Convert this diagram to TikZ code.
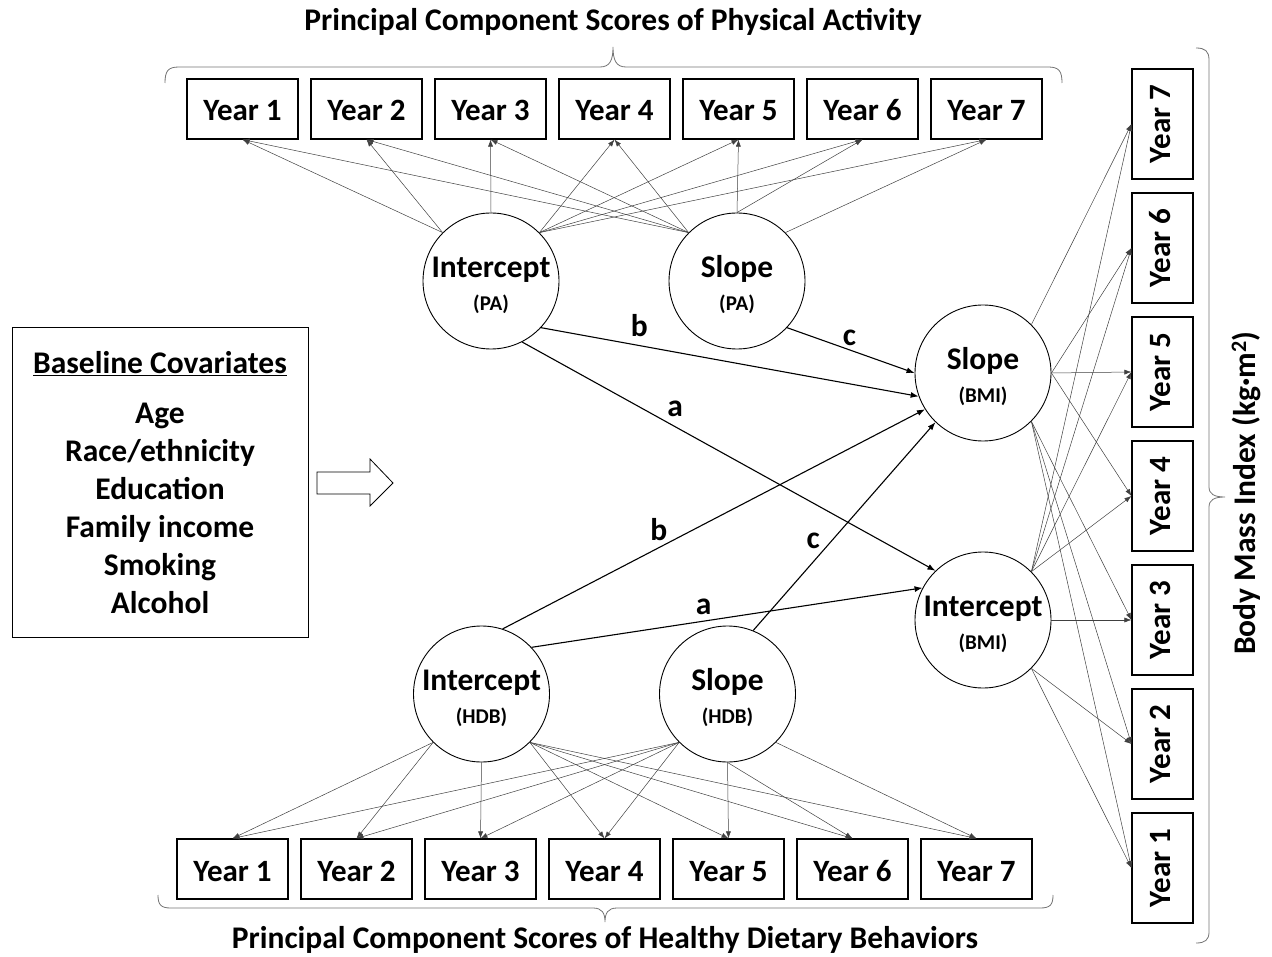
\documentclass[tikz,border=0pt]{standalone}
\usepackage{fontspec}
\setmainfont{Carlito}
\usetikzlibrary{arrows.meta}

\newcommand{\bigtxt}{\fontsize{31.5}{38}\selectfont\bfseries}
\newcommand{\yeartxt}{\fontsize{31}{38}\selectfont\bfseries}
\newcommand{\subtxt}{\fontsize{21}{24}\selectfont\bfseries}
\newcommand{\toppad}{\rule{0pt}{30pt}}

\begin{document}
\begin{tikzpicture}[
  x=1pt, y=-1pt,
  yearbox/.style={
    draw,
    line width=1.1pt,
    minimum width=111pt,
    minimum height=60pt,
    inner sep=0pt,
    text height=28pt,
    text depth=4pt,
    font=\yeartxt
  },
  bmibox/.style={
    draw,
    line width=1.1pt,
    minimum width=61pt,
    minimum height=110pt,
    inner sep=0pt,
    font=\yeartxt
  },
  latent/.style={
    draw,
    circle,
    line width=0.9pt,
    minimum size=136pt,
    inner sep=0pt,
    align=center,
    font=\bigtxt
  },
  load/.style={-{Latex[length=7pt,width=5pt]},line width=0.5pt,black!75},
  path/.style={-{Latex[length=8pt,width=6pt]},line width=1.1pt},
  lbl/.style={font=\bigtxt,inner sep=1pt},
  bracket/.style={line width=0.8pt,black!55}
]
  \useasboundingbox (0,0) rectangle (1272,957);

  % observed scores
  \foreach \i in {1,...,7} {
    \node[yearbox] (pa\i) at ({118.5+124*\i},109) {Year \i};
    \node[yearbox] (hdb\i) at ({108.5+124*\i},869) {Year \i};
    \node[bmibox] (bmi\i) at (1162.5,{992-124*\i})
      {\rotatebox{90}{\vphantom{Yy2}Year \i}};
  }

  % growth factors
  \node[latent] (piPA) at (491,281) {\toppad Intercept\\[-5pt]{\subtxt(PA)}};
  \node[latent] (psPA) at (737,281) {\toppad Slope\\[-5pt]{\subtxt(PA)}};
  \node[latent] (piHDB) at (481.5,694) {\toppad Intercept\\[-5pt]{\subtxt(HDB)}};
  \node[latent] (psHDB) at (727.5,694) {\toppad Slope\\[-5pt]{\subtxt(HDB)}};
  \node[latent] (bmiS) at (983,373) {\toppad Slope\\[-5pt]{\subtxt(BMI)}};
  \node[latent] (bmiI) at (983,620) {\toppad Intercept\\[-5pt]{\subtxt(BMI)}};

  % loadings
  \foreach \j in {1,2} \draw[load] (piPA.135) -- (pa\j.south);
  \draw[load] (piPA.90) -- (pa3.south);
  \foreach \j in {4,...,7} \draw[load] (piPA.45) -- (pa\j.south);
  \foreach \j in {1,...,4} \draw[load] (psPA.135) -- (pa\j.south);
  \foreach \j in {5,6} \draw[load] (psPA.90) -- (pa\j.south);
  \draw[load] (psPA.45) -- (pa7.south);

  \foreach \j in {1,2} \draw[load] (piHDB.225) -- (hdb\j.north);
  \draw[load] (piHDB.270) -- (hdb3.north);
  \foreach \j in {4,...,7} \draw[load] (piHDB.315) -- (hdb\j.north);
  \foreach \j in {1,...,4} \draw[load] (psHDB.225) -- (hdb\j.north);
  \foreach \j in {5,6} \draw[load] (psHDB.270) -- (hdb\j.north);
  \draw[load] (psHDB.315) -- (hdb7.north);

  \draw[load] (bmiS.45) -- (bmi7.west);
  \foreach \j in {4,5,6} \draw[load] (bmiS.0) -- (bmi\j.west);
  \foreach \j in {1,2,3} \draw[load] (bmiS.-45) -- (bmi\j.west);
  \foreach \j in {4,...,7} \draw[load] (bmiI.45) -- (bmi\j.west);
  \draw[load] (bmiI.0) -- (bmi3.west);
  \foreach \j in {1,2} \draw[load] (bmiI.-45) -- (bmi\j.west);

  % structural paths
  \draw[path] (piPA.-43) -- node[lbl,pos=.26,above=7pt]{b} (bmiS.200);
  \draw[path] (psPA.-43) -- node[lbl,pos=.49,above=3pt]{c} (bmiS.180);
  \draw[path] (piPA.-63) -- node[lbl,pos=.37,above=8pt]{a} (bmiI.134);
  \draw[path] (piHDB.72) -- node[lbl,pos=.37,above=5pt]{b} (bmiS.212);
  \draw[path] (psHDB.68) -- node[lbl,pos=.33,above=12pt]{c} (bmiS.226);
  \draw[path] (piHDB.43) -- node[lbl,pos=.44,above=5pt]{a} (bmiI.152);

  % covariates
  \node[draw,line width=1pt,minimum width=296pt,minimum height=309pt,
    align=center,font=\bigtxt] (cov) at (160,482.5)
    {\underline{Baseline Covariates}\\[12pt]Age\\Race/ethnicity\\Education\\
     Family income\\Smoking\\Alcohol};
  \draw[line width=0.8pt,fill=white] (317,472) -- (370,472) -- (370,459)
    -- (393,483) -- (370,506) -- (370,494) -- (317,494) -- cycle;

  % braces and titles
  \draw[bracket] (165,83) .. controls (165,71) and (168,67) .. (179,67)
    -- (600,67) .. controls (610,67) and (613,60) .. (613,47)
    .. controls (613,60) and (616,67) .. (626,67) -- (1048,67)
    .. controls (1059,67) and (1062,71) .. (1062,83);
  \draw[bracket] (158,895) .. controls (158,905) and (161,908) .. (171,908)
    -- (593,908) .. controls (602,908) and (605,913) .. (605,922)
    .. controls (605,913) and (608,908) .. (617,908) -- (1040,908)
    .. controls (1050,908) and (1053,905) .. (1053,895);
  \draw[bracket] (1196,48) .. controls (1205,48) and (1209,51) .. (1209,60)
    -- (1209,487) .. controls (1209,494) and (1214,497) .. (1225,497)
    .. controls (1214,497) and (1209,500) .. (1209,507) -- (1209,932)
    .. controls (1209,940) and (1205,943) .. (1196,943);

  \node[font=\bigtxt] (paTitle) at (613,22)
    {Principal Component Scores of Physical Activity};
  \node[font=\bigtxt] (hdbTitle) at (605,940)
    {Principal Component Scores of Healthy Dietary Behaviors};
  \node[font=\bigtxt,rotate=90] (bmiTitle) at (1246,493)
    {Body Mass Index (kg·m\textsuperscript{2})};
\end{tikzpicture}
\end{document}
